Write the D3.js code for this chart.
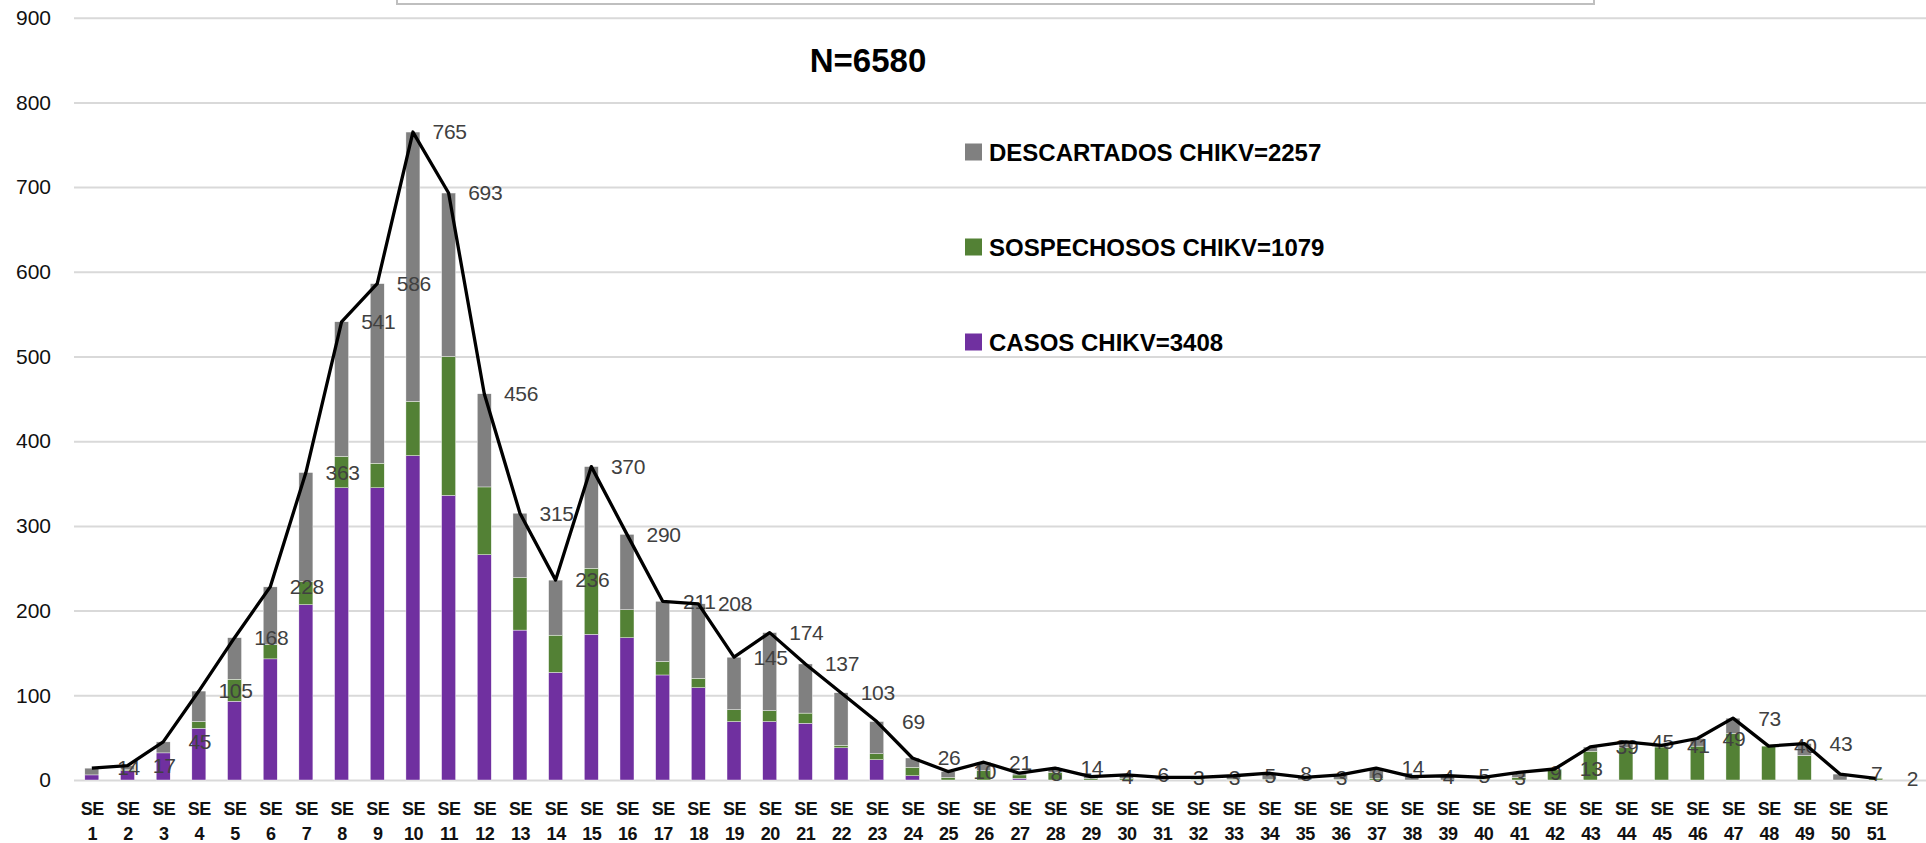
<!DOCTYPE html>
<html>
<head>
<meta charset="utf-8">
<script src="https://cdn.jsdelivr.net/npm/d3@7"></script>
<style>
  body { margin: 0; background: #fff; }
  svg { display: block; font-family: "Liberation Sans", Arial, sans-serif; }
</style>
</head>
<body>
<div id="chart"></div>
<script>
// semanas epidemiológicas
const weeks = [1, 2, 3, 4, 5, 6, 7, 8, 9, 10, 11, 12, 13, 14, 15, 16, 17, 18, 19, 20,
  21, 22, 23, 24, 25, 26, 27, 28, 29, 30, 31, 32, 33, 34, 35, 36, 37, 38, 39, 40,
  41, 42, 43, 44, 45, 46, 47, 48, 49, 50, 51];

const casos = [6, 11, 32, 61, 93, 143, 207, 345, 345, 383, 336, 266, 177, 127, 172, 168, 124, 109, 69, 69,
  67, 38, 24, 5, 0, 0, 2, 0, 0, 0, 0, 0, 0, 0, 0, 0, 0, 0, 0, 0,
  0, 0, 0, 0, 0, 0, 0, 0, 0, 0, 0];

const sospechosos = [0, 1, 0, 8, 26, 17, 27, 37, 29, 64, 164, 80, 62, 44, 78, 33, 16, 11, 14, 13,
  12, 3, 7, 10, 3, 11, 4, 9, 2, 2, 0, 1, 1, 1, 0, 1, 2, 0, 0, 1,
  3, 12, 34, 38, 39, 40, 55, 40, 29, 0, 2];

const descartados = [8, 5, 13, 36, 49, 68, 129, 159, 212, 318, 193, 110, 76, 65, 120, 89, 71, 88, 62, 92,
  58, 62, 38, 11, 7, 10, 2, 5, 2, 4, 3, 2, 4, 7, 3, 5, 12, 4, 5, 2,
  6, 1, 5, 7, 2, 9, 18, 0, 14, 7, 0];

const yTicks = [0, 100, 200, 300, 400, 500, 600, 700, 800, 900];
const titleText = "N=6580";
const seriesKeys = ["descartados", "sospechosos", "casos"];
const legendLabels = ["DESCARTADOS CHIKV=2257", "SOSPECHOSOS CHIKV=1079", "CASOS CHIKV=3408"];

const colors = { casos: "#7030a0", sospechosos: "#538135", descartados: "#808080" };

const width = 1926, height = 843;

const rows = weeks.map((w, i) => ({
  week: w,
  casos: casos[i],
  sospechosos: sospechosos[i],
  descartados: descartados[i]
}));
rows.forEach(d => d.total = d.casos + d.sospechosos + d.descartados);

const x = d3.scalePoint()
  .domain(weeks)
  .range([74, 1893.5])
  .padding(0.5);

const y = d3.scaleLinear()
  .domain([0, 900])
  .range([780, 17.7]);

const barW = 14;

const svg = d3.select("#chart")
  .append("svg")
  .attr("width", width)
  .attr("height", height)
  .attr("viewBox", [0, 0, width, height]);

// recuadro recortado arriba
svg.append("rect")
  .attr("x", 397).attr("y", -20)
  .attr("width", 1197).attr("height", 24)
  .attr("fill", "#fff")
  .attr("stroke", "#bfbfbf")
  .attr("stroke-width", 2);

// grid + eje y
const yAxis = svg.append("g")
  .attr("transform", "translate(74,0)")
  .call(d3.axisLeft(y).tickValues(yTicks).tickSize(-(width - 74)).tickPadding(23));
yAxis.select(".domain").remove();
yAxis.selectAll(".tick line").attr("stroke", "#d9d9d9").attr("stroke-width", 2);
yAxis.selectAll(".tick text")
  .attr("font-size", 21)
  .attr("fill", "#111")
  .attr("font-family", "Liberation Sans, Arial, sans-serif");

// eje x
const xAxis = svg.append("g")
  .attr("transform", `translate(0,${y(0)})`)
  .call(d3.axisBottom(x).tickSize(0));
xAxis.select(".domain").remove();
xAxis.selectAll(".tick text").each(function(d) {
  const t = d3.select(this);
  t.text(null).attr("y", 0).attr("dy", null)
    .attr("font-size", 18)
    .attr("font-weight", "bold")
    .attr("letter-spacing", -0.5)
    .attr("fill", "#111")
    .attr("font-family", "Liberation Sans, Arial, sans-serif");
  t.append("tspan").attr("x", 0).attr("y", 35).text("SE");
  t.append("tspan").attr("x", 0).attr("y", 60).text(d);
});

// barras apiladas
const stack = d3.stack().keys(["casos", "sospechosos", "descartados"]);
const series = stack(rows);

svg.append("g")
  .selectAll("g")
  .data(series)
  .join("g")
  .attr("fill", s => colors[s.key])
  .selectAll("rect")
  .data(s => s)
  .join("rect")
  .attr("x", d => x(d.data.week) - barW / 2)
  .attr("y", d => y(d[1]))
  .attr("width", barW)
  .attr("height", d => Math.max(0, y(d[0]) - y(d[1])))
  .attr("stroke", "#fff")
  .attr("stroke-width", 0.4);

// etiquetas de totales (desplazadas una semana, como en el original)
svg.append("g")
  .selectAll("text")
  .data(rows)
  .join("text")
  .attr("x", d => x(d.week) + x.step() + 1)
  .attr("y", d => y(d.total))
  .attr("dy", "0.35em")
  .attr("text-anchor", "middle")
  .attr("font-size", 21)
  .attr("letter-spacing", -0.3)
  .attr("fill", "#404040")
  .text(d => d.total);

// línea de totales
const line = d3.line()
  .x(d => x(d.week))
  .y(d => y(d.total));

svg.append("path")
  .datum(rows)
  .attr("fill", "none")
  .attr("stroke", "#000")
  .attr("stroke-width", 3.3)
  .attr("stroke-linejoin", "round")
  .attr("d", line);

// título
svg.append("text")
  .attr("x", 868)
  .attr("y", 72)
  .attr("text-anchor", "middle")
  .attr("font-size", 33)
  .attr("font-weight", "bold")
  .attr("fill", "#000")
  .text(titleText);

// leyenda
const legend = svg.append("g")
  .selectAll("g")
  .data(seriesKeys)
  .join("g")
  .attr("transform", (d, i) => `translate(965,${152 + i * 95})`);

legend.append("rect")
  .attr("x", 0).attr("y", -8.5)
  .attr("width", 17).attr("height", 17)
  .attr("fill", d => colors[d]);

legend.append("text")
  .attr("x", 24)
  .attr("dy", "0.36em")
  .attr("font-size", 24)
  .attr("font-weight", "bold")
  .attr("fill", "#000")
  .text((d, i) => legendLabels[i]);
</script>
</body>
</html>
